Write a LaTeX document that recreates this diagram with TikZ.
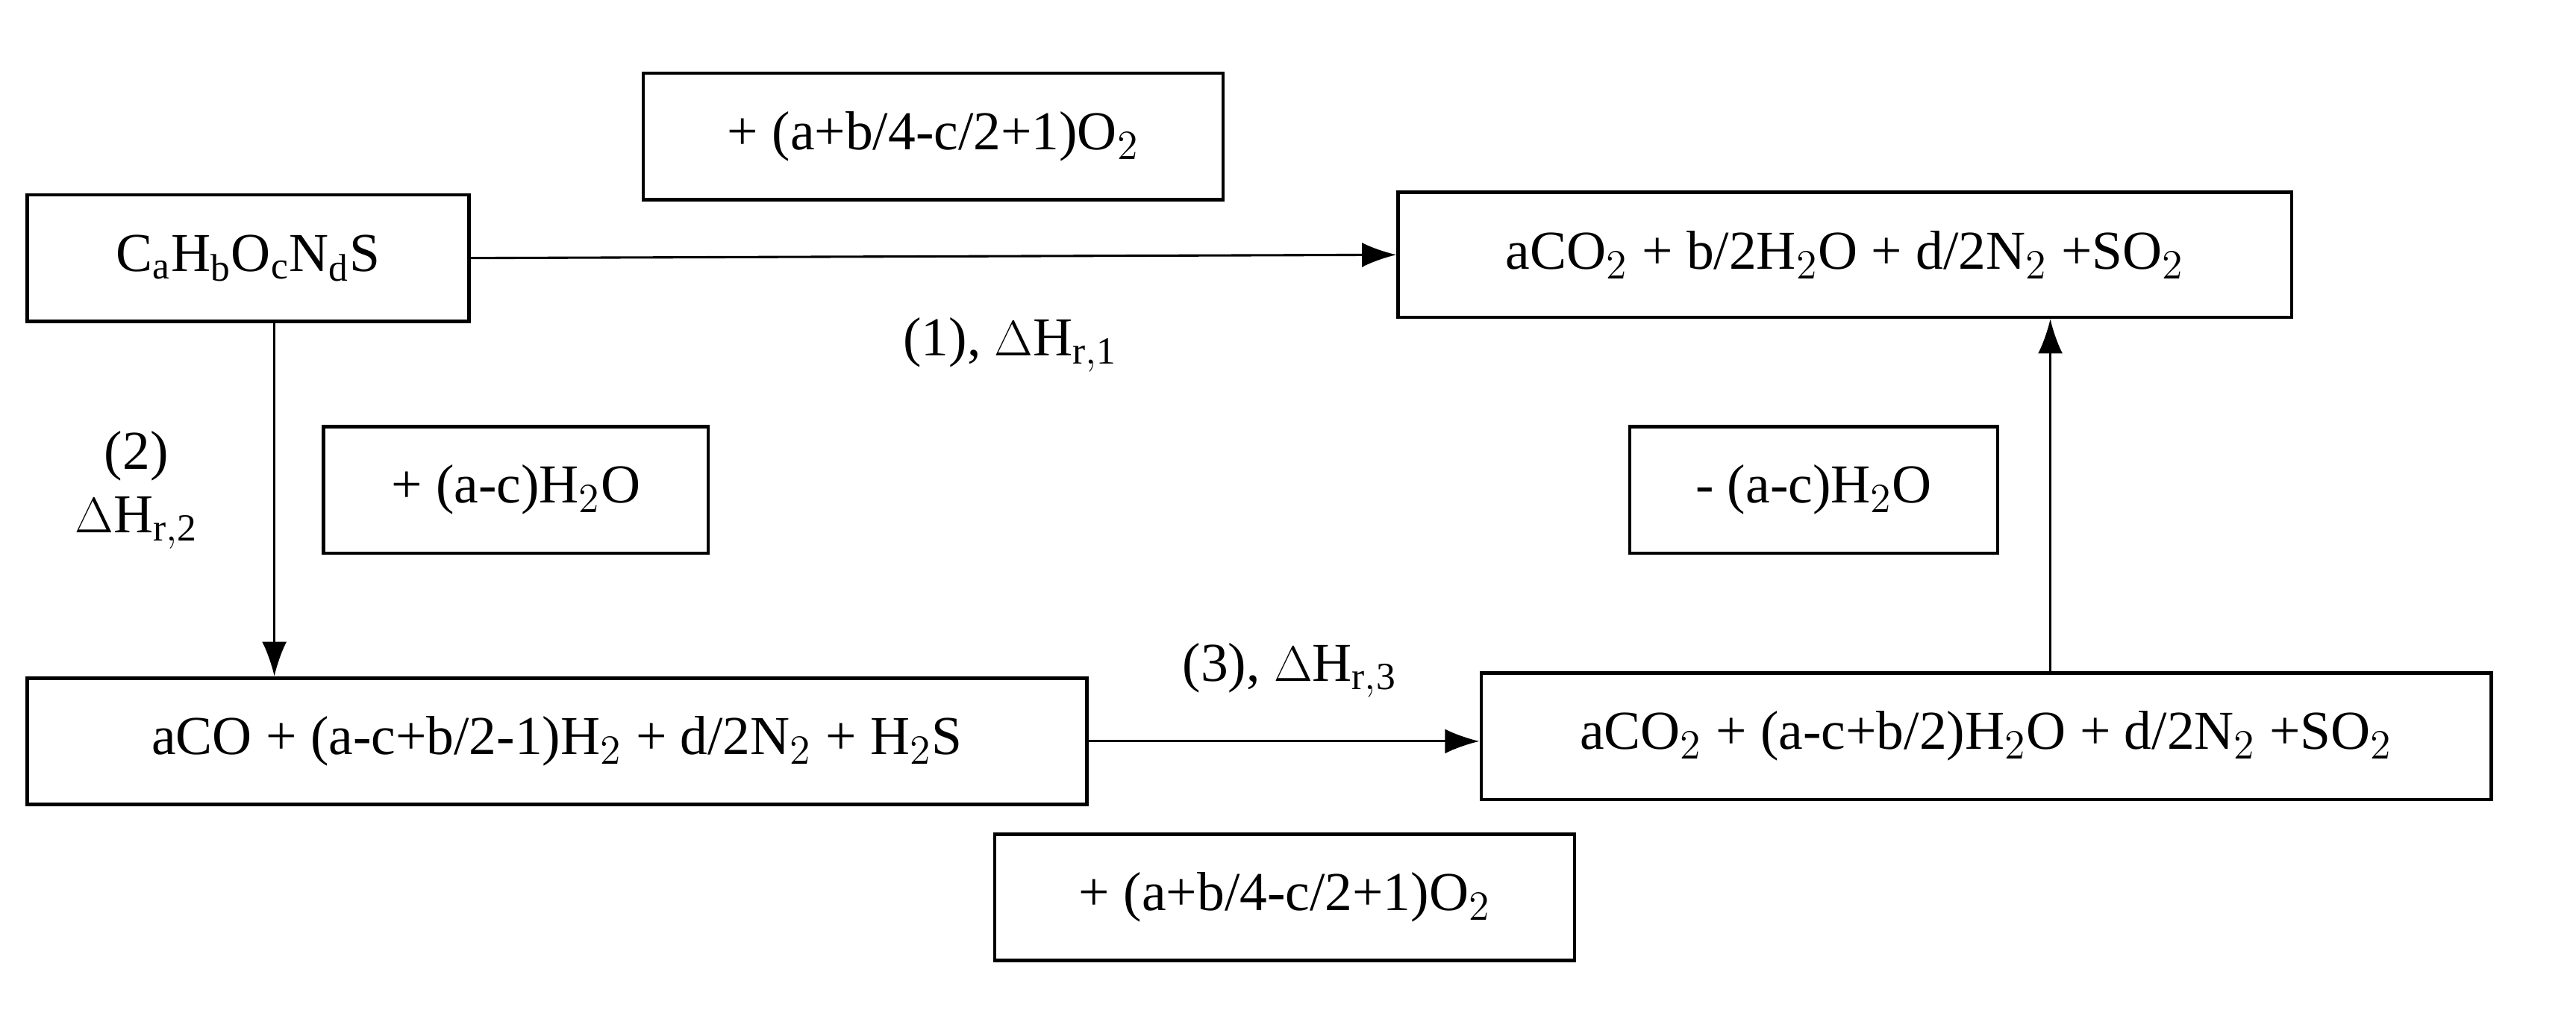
\documentclass[tikz,border=0pt]{standalone}
\usepackage{fontspec}
\setmainfont{Liberation Serif}
\usetikzlibrary{arrows.meta}
\tikzset{
  box/.style={draw,line width=1.2pt,minimum height=1.54cm,inner sep=0pt,font=\fontsize{19}{22}\selectfont},
  lbl/.style={font=\fontsize{19}{22}\selectfont,align=center},
  arr/.style={line width=0.8pt,-{Latex[length=0.42cm,width=0.3cm]}}
}
\begin{document}
\begin{tikzpicture}[x=0.02cm,y=-0.02cm]
\useasboundingbox (0,0) rectangle (1568,627);
% boxes
\node[box,minimum width=7.06cm] (oxa) at (568,83) {+ (a+b/4-c/2+1)O$_2$};
\node[box,minimum width=5.38cm] (fuel) at (151,157) {C$_\mathrm{a}$H$_\mathrm{b}$O$_\mathrm{c}$N$_\mathrm{d}$S};
\node[box,minimum width=10.88cm,minimum height=1.52cm] (prod) at (1123,155) {aCO$_2$ + b/2H$_2$O + d/2N$_2$ +SO$_2$};
\node[box,minimum width=4.68cm] (wadd) at (314,298) {+ (a-c)H$_2$O};
\node[box,minimum width=4.48cm] (wrem) at (1104,298) {- (a-c)H$_2$O};
\node[box,minimum width=12.9cm] (syn) at (339,451) {aCO + (a-c+b/2-1)H$_2$ + d/2N$_2$ + H$_2$S};
\node[box,minimum width=12.3cm] (mid) at (1209,448) {aCO$_2$ + (a-c+b/2)H$_2$O + d/2N$_2$ +SO$_2$};
\node[box,minimum width=7.06cm] (oxb) at (782,546) {+ (a+b/4-c/2+1)O$_2$};
% labels
\node[lbl] (r1) at (615,210) {(1), $\Delta$H$_\mathrm{r,1}$};
\node[lbl] (r2) at (83,298) {(2)\\$\Delta$H$_\mathrm{r,2}$};
\node[lbl] (r3) at (785,408) {(3), $\Delta$H$_\mathrm{r,3}$};
% connectors
\draw[arr] (fuel.east) -- (prod.west);
\draw[arr] (fuel.south -| 167,0) -- (syn.north -| 167,0);
\draw[arr] (syn.east) -- (syn.east -| mid.west);
\draw[arr] (mid.north -| 1248,0) -- (prod.south -| 1248,0);
\end{tikzpicture}
\end{document}
